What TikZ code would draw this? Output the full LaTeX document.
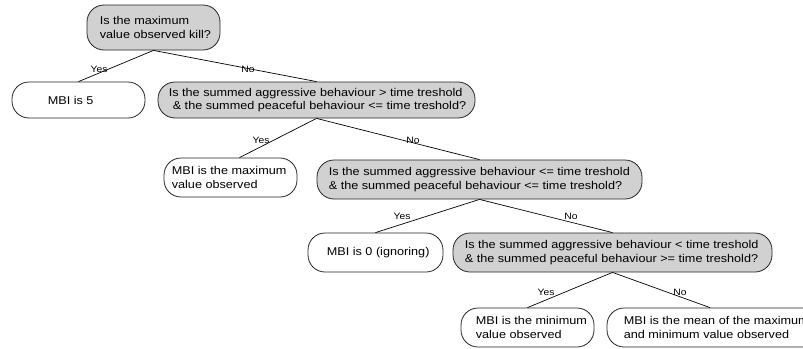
\documentclass[tikz,border=0pt]{standalone}
\usepackage{fontspec}
\setmainfont{Liberation Sans}[FakeStretch=1.12]
\begin{document}
\begin{tikzpicture}[x=1pt,y=-1pt,
  qbox/.style={draw=black!85, fill=black!18, rounded corners=17pt, line width=0.8pt, inner sep=0pt},
  abox/.style={draw=black!85, fill=white, rounded corners=17pt, line width=0.8pt, inner sep=0pt},
  txt/.style={anchor=west, inner sep=0pt, align=left, font=\fontsize{11.3}{13.3}\selectfont},
  lbl/.style={inner sep=0pt, font=\fontsize{9.2}{11}\selectfont},
  conn/.style={line width=0.7pt}]
\useasboundingbox (0,0) rectangle (803,348);
\clip (0,0) rectangle (803,348);

% boxes
\node[qbox, minimum width=133pt, minimum height=45pt] (q1) at (153.5,27.5) {};
\node[abox, minimum width=133pt, minimum height=36pt] (a1) at (78.5,100) {};
\node[qbox, minimum width=317pt, minimum height=36pt] (q2) at (316.5,100) {};
\node[abox, minimum width=133pt, minimum height=39pt] (a2) at (230.5,177.5) {};
\node[qbox, minimum width=325pt, minimum height=39pt] (q3) at (479.5,179.5) {};
\node[abox, minimum width=135pt, minimum height=39pt] (a3) at (375.5,252.5) {};
\node[qbox, minimum width=319pt, minimum height=39pt] (q4) at (612.5,252.5) {};
\node[abox, minimum width=133pt, minimum height=39pt] (a4) at (527.5,327.5) {};
\node[abox, minimum width=220pt, minimum height=39pt] (a5) at (717,327.5) {};

% texts
\node[txt] (q1t) at ([xshift=13pt]q1.west) {Is the maximum\\value observed kill?};
\node[txt] (a1t) at ([xshift=36pt]a1.west) {MBI is 5};
\node[txt] (q2t) at ([xshift=11pt]q2.west) {Is the summed aggressive behaviour > time treshold\\\hspace{4pt}\& the summed peaceful behaviour <= time treshold?};
\node[txt] (a2t) at ([xshift=8pt]a2.west) {MBI is the maximum\\value observed};
\node[txt] (q3t) at ([xshift=12pt]q3.west) {Is the summed aggressive behaviour <= time treshold\\\& the summed peaceful behaviour <= time treshold?};
\node[txt] (a3t) at ([xshift=19pt]a3.west) {MBI is 0 (ignoring)};
\node[txt] (q4t) at ([xshift=12pt]q4.west) {Is the summed aggressive behaviour < time treshold\\\& the summed peaceful behaviour >= time treshold?};
\node[txt] (a4t) at ([xshift=15pt]a4.west) {MBI is the minimum\\value observed};
\node[txt] (a5t) at ([xshift=17pt]a5.west) {MBI is the mean of the maximum\\and minimum value observed};

% connectors
\draw[conn] (q1.south) -- (a1.north);
\draw[conn] (q1.south) -- (q2.north);
\draw[conn] (q2.south) -- ([xshift=9pt]a2.north);
\draw[conn] (q2.south) -- (q3.north);
\draw[conn] (q3.south) -- (a3.north);
\draw[conn] (q3.south) -- (q4.north);
\draw[conn] (q4.south) -- (a4.north);
\draw[conn] (q4.south) -- ([xshift=-7pt]a5.north);

% labels
\node[lbl] (y1) at (99,69) {Yes};
\node[lbl] (n1) at (248,69) {No};
\node[lbl] (y2) at (261,140) {Yes};
\node[lbl] (n2) at (413,140) {No};
\node[lbl] (y3) at (402,216) {Yes};
\node[lbl] (n3) at (571,216) {No};
\node[lbl] (y4) at (546,292) {Yes};
\node[lbl] (n4) at (680,292) {No};
\end{tikzpicture}
\end{document}
